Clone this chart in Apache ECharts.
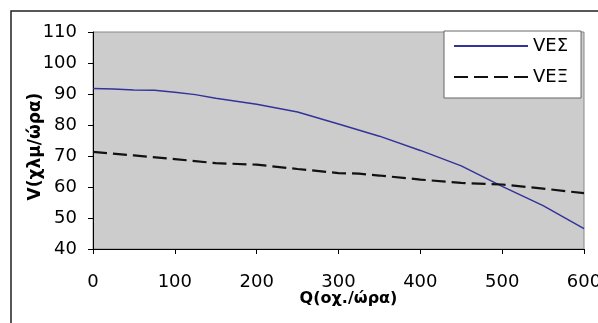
<!DOCTYPE html>
<html>
<head>
<meta charset="utf-8">
<script src="https://cdn.jsdelivr.net/npm/echarts@6/dist/echarts.min.js"></script>
<style>
  html, body { margin: 0; padding: 0; background: #fff; }
  #chart { width: 598px; height: 323px; }
</style>
</head>
<body>
<div id="chart"></div>
<script>
// VEΣ curve (Q, V)
const qVes = [0, 25, 50, 75, 100, 125, 150, 200, 250, 300, 350, 400, 450, 500, 550, 600]
const vVes = [91.8, 91.6, 91.3, 91.2, 90.6, 89.8, 88.6, 86.7, 84.2, 80.3, 76.4, 71.8, 66.8, 60.2, 54.0, 46.6]
// VEΞ curve (Q, V)
const qVex = [0, 50, 100, 150, 200, 250, 300, 325, 350, 400, 450, 500, 550, 600]
const vVex = [71.3, 70.2, 69.0, 67.7, 67.2, 65.8, 64.5, 64.3, 63.7, 62.4, 61.3, 60.8, 59.5, 58.0]

const names = ['VEΣ', 'VEΞ']

const chart = echarts.init(document.getElementById('chart'))
const font = 'DejaVu Sans, sans-serif'

const options = {
  backgroundColor: '#fff',
  animation: false,
  graphic: [
    {
      type: 'rect',
      shape: { x: 11, y: 11, width: 620, height: 400 },
      style: { fill: 'none', stroke: '#222', lineWidth: 1.5 },
      z: 100
    }
  ],
  grid: {
    left: 93,
    right: 14,
    top: 32,
    bottom: 74,
    outerBoundsMode: 'none',
    show: true,
    backgroundColor: '#cccccc',
    borderColor: '#888',
    borderWidth: 1
  },
  legend: {
    left: 444,
    top: 31,
    orient: 'vertical',
    backgroundColor: '#fff',
    borderColor: '#666',
    borderWidth: 1,
    padding: [6, 13, 12, 9],
    itemWidth: 74,
    itemHeight: 20,
    itemGap: 13,
    itemStyle: { opacity: 0 },
    textStyle: { fontFamily: font, fontSize: 18, color: '#000' },
    data: names
  },
  xAxis: {
    type: 'value',
    min: 0,
    max: 600,
    interval: 100,
    name: 'Q(οχ./ώρα)',
    nameLocation: 'middle',
    nameGap: 42,
    nameMoveOverlap: false,
    nameTextStyle: { fontFamily: font, fontSize: 16, fontWeight: 'bold', color: '#000', padding: [0, 0, 0, 20] },
    axisLine: { lineStyle: { color: '#000', width: 1 } },
    axisTick: { show: true, inside: false, length: 5, lineStyle: { color: '#000' } },
    axisLabel: { fontFamily: font, fontSize: 18, color: '#000', margin: 24 },
    splitLine: { show: false }
  },
  yAxis: {
    type: 'value',
    min: 40,
    max: 110,
    interval: 10,
    name: 'V(χλμ/ώρα)',
    nameLocation: 'middle',
    nameGap: 49,
    nameMoveOverlap: false,
    nameTextStyle: { fontFamily: font, fontSize: 17, fontWeight: 'bold', color: '#000', padding: [0, 12, 0, 0] },
    axisLine: { show: true, lineStyle: { color: '#000', width: 1 } },
    axisTick: { show: true, inside: false, length: 5, lineStyle: { color: '#000' } },
    axisLabel: { fontFamily: font, fontSize: 18, color: '#000', margin: 16 },
    splitLine: { show: false }
  },
  series: [
    {
      name: names[0],
      type: 'line',
      symbol: 'none',
      lineStyle: { color: '#333399', width: 1.5 },
      itemStyle: { color: '#333399' },
      data: qVes.map((q, i) => [q, vVes[i]])
    },
    {
      name: names[1],
      type: 'line',
      symbol: 'none',
      lineStyle: { color: '#111', width: 2.2, type: [14, 6] },
      itemStyle: { color: '#111' },
      data: qVex.map((q, i) => [q, vVex[i]])
    }
  ]
}
chart.setOption(options)
</script>
</body>
</html>
